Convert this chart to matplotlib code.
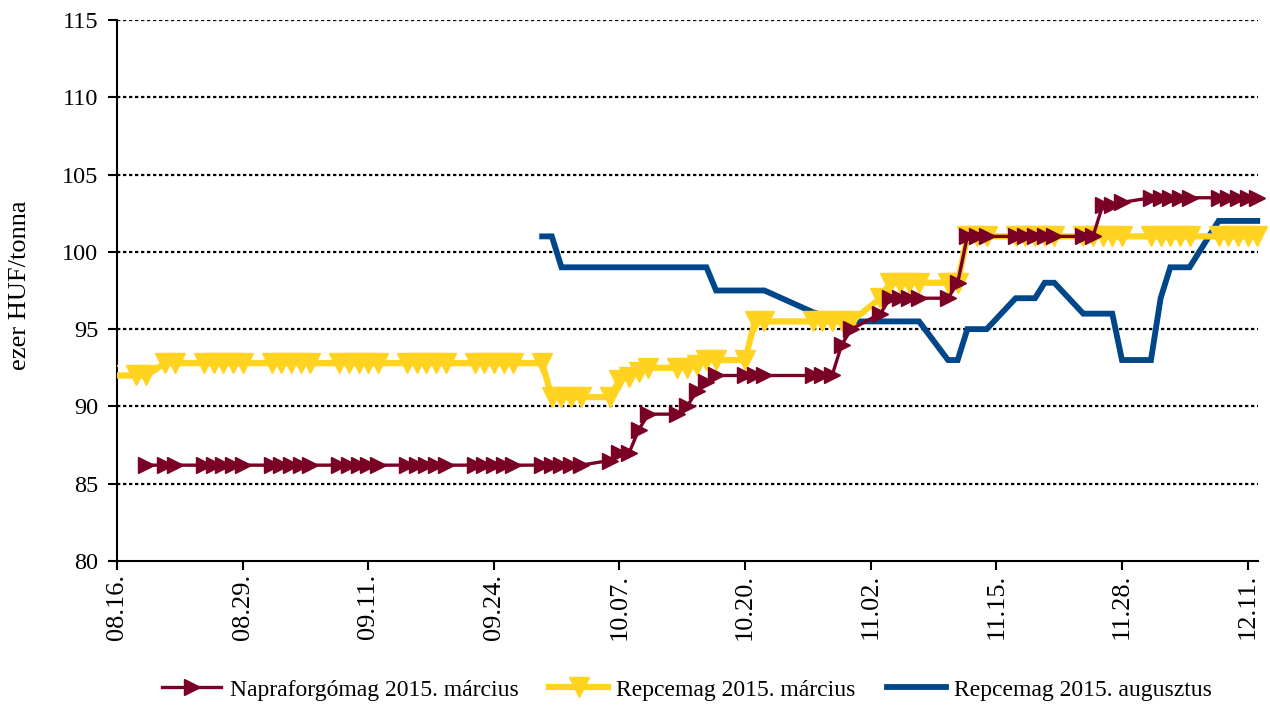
import numpy as np
import pandas as pd
import matplotlib
matplotlib.use("Agg")
import matplotlib.pyplot as plt
import matplotlib.dates as mdates
from matplotlib.transforms import Bbox, TransformedBbox

plt.rcParams["font.family"] = ["Liberation Serif", "DejaVu Serif"]

# trading days (weekdays without the Hungarian holidays)
holidays = ["2014-08-20", "2014-10-23", "2014-10-24"]
days = pd.bdate_range("2014-08-15", "2014-12-12")
days = days[~days.isin(pd.to_datetime(holidays))]

nan = np.nan
napra_mar = [
    nan,
    nan, 86.2, 86.2, 86.2,
    86.2, 86.2, 86.2, 86.2, 86.2,
    86.2, 86.2, 86.2, 86.2, 86.2,
    86.2, 86.2, 86.2, 86.2, 86.2,
    86.2, 86.2, 86.2, 86.2, 86.2,
    86.2, 86.2, 86.2, 86.2, 86.2,
    86.2, 86.2, 86.2, 86.2, 86.2,
    86.5, 87.0, 87.0, 88.5, 89.5,
    89.5, 90.0, 91.0, 91.6, 92.0,
    92.0, 92.0, 92.0,
    92.0, 92.0, 92.0, 94.0, 95.0,
    96.0, 97.0, 97.0, 97.0, 97.0,
    97.0, 98.0, 101.0, 101.0, 101.0,
    101.0, 101.0, 101.0, 101.0, 101.0,
    101.0, 101.0, 103.0, 103.0, 103.2,
    103.5, 103.5, 103.5, 103.5, 103.5,
    103.5, 103.5, 103.5, 103.5, 103.5,
]
repce_mar = [
    92.0,
    92.0, 92.0, 92.8, 92.8,
    92.8, 92.8, 92.8, 92.8, 92.8,
    92.8, 92.8, 92.8, 92.8, 92.8,
    92.8, 92.8, 92.8, 92.8, 92.8,
    92.8, 92.8, 92.8, 92.8, 92.8,
    92.8, 92.8, 92.8, 92.8, 92.8,
    92.8, 90.6, 90.6, 90.6, 90.6,
    90.6, 91.7, 91.9, 92.2, 92.5,
    92.5, 92.5, 92.7, 93.0, 93.0,
    93.0, 95.5, 95.5,
    95.5, 95.5, 95.5, 95.5, 95.5,
    97.0, 98.0, 98.0, 98.0, 98.0,
    98.0, 98.0, 101.0, 101.0, 101.0,
    101.0, 101.0, 101.0, 101.0, 101.0,
    101.0, 101.0, 101.0, 101.0, 101.0,
    101.0, 101.0, 101.0, 101.0, 101.0,
    101.0, 101.0, 101.0, 101.0, 101.0,
]
repce_aug = [
    nan,
    nan, nan, nan, nan,
    nan, nan, nan, nan, nan,
    nan, nan, nan, nan, nan,
    nan, nan, nan, nan, nan,
    nan, nan, nan, nan, nan,
    nan, nan, nan, nan, nan,
    101.0, 101.0, 99.0, 99.0, 99.0,
    99.0, 99.0, 99.0, 99.0, 99.0,
    99.0, 99.0, 99.0, 99.0, 97.5,
    97.5, 97.5, 97.5,
    96.1, 95.9, 95.7, 95.6, 95.5,
    95.5, 95.5, 95.5, 95.5, 95.5,
    93.0, 93.0, 95.0, 95.0, 95.0,
    97.0, 97.0, 97.0, 98.0, 98.0,
    96.0, 96.0, 96.0, 96.0, 93.0,
    93.0, 97.0, 99.0, 99.0, 99.0,
    102.0, 102.0, 102.0, 102.0, 102.0,
]
labels = ["Napraforgómag 2015. március", "Repcemag 2015. március",
          "Repcemag 2015. augusztus"]
tick_days = pd.date_range("2014-08-16", periods=10, freq="13D")

red = "#7A0026"
yellow = "#FFD320"
blue = "#00478A"

fig = plt.figure(figsize=(12.7, 7.06), dpi=100)
ax = fig.add_axes([0.0921, 0.2054, 0.8985, 0.7663])

l1, = ax.plot(days, napra_mar, color=red, lw=2.4, marker=">", ms=11.5,
              mec=red, mfc=red, label=labels[0], zorder=4, clip_on=False)
l2, = ax.plot(days, repce_mar, color=yellow, lw=4.5, marker="v", ms=14,
              mec=yellow, mfc=yellow, label=labels[1], zorder=3)
l3, = ax.plot(days, repce_aug, color=blue, lw=4.2, label=labels[2],
              zorder=2, clip_on=False, solid_joinstyle="miter")
# let the last yellow markers run past the right edge, like the others
l2.set_clip_box(TransformedBbox(Bbox.from_extents(0, -0.1, 1.05, 1.1),
                                ax.transAxes))

ax.set_xlim(pd.Timestamp("2014-08-16"), pd.Timestamp("2014-12-12 02:00"))
ax.set_ylim(80, 115)
ax.set_yticks(range(80, 116, 5))
ax.set_xticks(tick_days)
ax.xaxis.set_major_formatter(mdates.DateFormatter("%m.%d."))

for v in range(85, 116, 5):
    ax.axhline(v, color="black", lw=1.6, ls=(0, (1.5, 1.2)), zorder=1)

for s in ["top", "right"]:
    ax.spines[s].set_visible(False)
for s in ["left", "bottom"]:
    ax.spines[s].set_linewidth(1.5)

ax.tick_params(axis="y", direction="out", length=6.5, width=1.5,
               labelsize=17.5, pad=7)
ax.tick_params(axis="x", direction="out", length=6.5, width=1.5,
               labelsize=19, pad=3, labelrotation=90)

ax.set_ylabel("ezer HUF/tonna", fontsize=19)
ax.yaxis.set_label_coords(-0.075, 0.51)

fig.legend(handles=[l1, l2, l3], loc="center", bbox_to_anchor=(0.541, 0.023),
           ncol=3, frameon=False, fontsize=17, numpoints=1,
           handlelength=2.5, handletextpad=0.35, columnspacing=1.3)

plt.savefig("out.png", dpi=100)
